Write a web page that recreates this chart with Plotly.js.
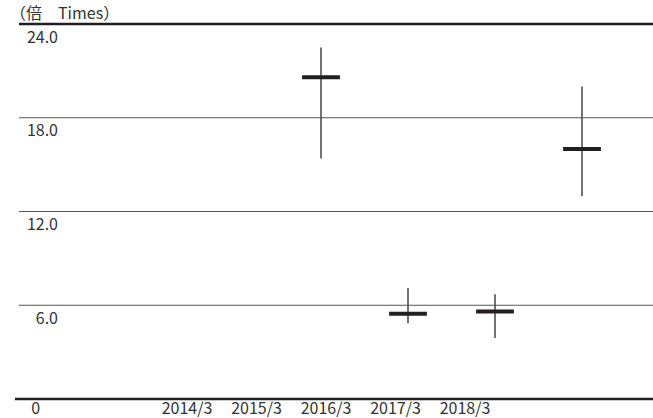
<!DOCTYPE html>
<html>
<head>
<meta charset="utf-8">
<script src="https://cdn.plot.ly/plotly-3.0.1.min.js"></script>
<style>html,body{margin:0;padding:0;background:#fff;}#chart{width:653px;height:418px;}</style>
</head>
<body>
<div id="chart"></div>
<script>
// Data
var periods = ['2014/3', '2015/3', '2016/3', '2017/3', '2018/3'];
var highVals = [null, 22.5, 7.1, 6.7, 20.0];
var lowVals  = [null, 15.4, 4.85, 3.9, 13.0];
var endVals  = [null, 20.6, 5.45, 5.6, 16.0];
var yTickVals = [6, 12, 18, 24];
var yTickText = ['6.0', '12.0', '18.0', '24.0'];
var zeroTickVals = [0];
var zeroTickText = ['0&nbsp;&nbsp;&nbsp;&nbsp;&nbsp;'];
var unitLabel = '（倍　Times）';

var W = 653, H = 418;
var L = 59, R = 0, T = 20, B = 3;
var plotW = W - L - R, plotH = H - T - B;
var FONT = '"Noto Sans CJK JP", "Noto Sans", sans-serif';
var zeroPx = 399, topPx = 24;              // pixel rows of 0 and 24
var pxPerUnit = (zeroPx - topPx) / 24;
var yMin = -(H - B - zeroPx) / pxPerUnit, yMax = 24 + (topPx - T) / pxPerUnit;
var axisPos = (H - B - zeroPx) / plotH;

// category axis geometry (pixels)
var dataStart = 234, dataStep = 87;   // marks
var labStart = 187, labStep = 69.5;   // tick labels
var r0 = -(dataStart - L) / dataStep, r1 = r0 + plotW / dataStep;
var q0 = -(labStart - L) / labStep, q1 = q0 + plotW / labStep;

var errPlus = endVals.map(function (v, i) { return v == null ? null : highVals[i] - v; });
var errMinus = endVals.map(function (v, i) { return v == null ? null : v - lowVals[i]; });

var traces = [
  {
    type: 'scatter', mode: 'markers', x: periods, y: endVals,
    xaxis: 'x', yaxis: 'y',
    marker: { symbol: 'line-ew', size: 27, color: '#231f20', line: { width: 4, color: '#231f20' } },
    error_y: { type: 'data', symmetric: false, array: errPlus, arrayminus: errMinus,
               width: 0, thickness: 1.5, color: '#444' },
    showlegend: false, hoverinfo: 'skip', cliponaxis: false
  },
  {
    type: 'scatter', mode: 'markers', x: periods, y: periods.map(function () { return null; }),
    xaxis: 'x2', yaxis: 'y2', showlegend: false, hoverinfo: 'skip'
  }
];

var allTicks = zeroTickVals.concat(yTickVals);
var gx0 = (19 - L) / plotW, bx0 = (15 - L) / plotW;
var shapes = allTicks.map(function (v) {
  var edge = (v === allTicks[0] || v === allTicks[allTicks.length - 1]);
  return {
    type: 'line', xref: 'paper', yref: 'y',
    x0: (v === allTicks[0] ? bx0 : gx0), x1: 1, y0: v, y1: v,
    line: { color: edge ? '#231f20' : '#555', width: edge ? 2.5 : 1 },
    layer: 'below'
  };
});

var layout = {
  width: W, height: H,
  margin: { l: L, r: R, t: T, b: B, pad: 0 },
  paper_bgcolor: '#fff', plot_bgcolor: '#fff',
  font: { family: FONT, color: '#333', size: 16 },
  showlegend: false,
  title: { text: unitLabel, font: { family: FONT, size: 16, color: '#333' },
           xref: 'container', yref: 'container', x: 10 / W, xanchor: 'left',
           y: 1 - 13 / H, yanchor: 'middle' },
  xaxis: { type: 'category', categoryarray: periods, range: [r0, r1], anchor: 'free', position: axisPos,
           showticklabels: false, showgrid: false, zeroline: false, showline: false, ticks: '', fixedrange: true },
  xaxis2: { type: 'category', categoryarray: periods, range: [q0, q1], overlaying: 'x', anchor: 'free',
            position: axisPos, side: 'bottom',
            showticklabels: true, showgrid: false, zeroline: false, showline: false, ticks: '',
            tickfont: { family: FONT, size: 16, color: '#333' }, ticklabelstandoff: -2,
            ticklabeloverflow: 'allow' },
  yaxis: { range: [yMin, yMax], tickvals: yTickVals, ticktext: yTickText,
           showgrid: false, zeroline: false, showline: false, ticks: '',
           tickfont: { family: FONT, size: 16, color: '#333' }, ticklabelshift: 13,
           ticklabeloverflow: 'allow', fixedrange: true },
  yaxis2: { range: [yMin, yMax], overlaying: 'y', side: 'left', anchor: 'x',
            tickvals: zeroTickVals, ticktext: zeroTickText,
            showgrid: false, zeroline: false, showline: false, ticks: '',
            tickfont: { family: FONT, size: 16, color: '#333' }, ticklabelshift: 9,
            ticklabeloverflow: 'allow', fixedrange: true },
  shapes: shapes
};

Plotly.newPlot('chart', traces, layout, { displayModeBar: false, staticPlot: true });
</script>
</body>
</html>
